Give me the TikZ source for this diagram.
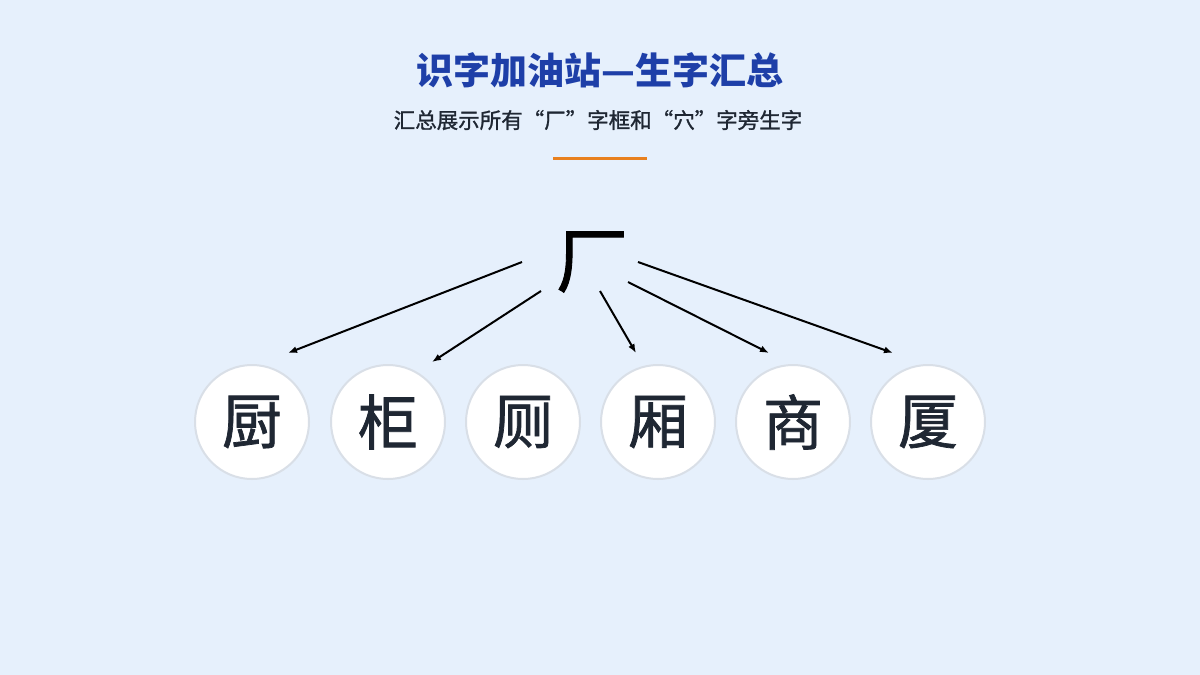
\documentclass[tikz,border=0pt]{standalone}
\usepackage{fontspec}
\setmainfont{Noto Sans CJK SC}
\newfontfamily\cjkm[FakeBold=1.2]{Noto Sans CJK SC}
\definecolor{bgc}{HTML}{E6F0FC}
\definecolor{titc}{HTML}{1E3FA8}
\definecolor{txtc}{HTML}{1F2733}
\definecolor{orc}{HTML}{E8801E}
\definecolor{rimc}{HTML}{D9DFE7}
\tikzset{
  charc/.style={circle,fill=white,draw=rimc,line width=2pt,minimum size=114pt,inner sep=0pt,text=txtc,font=\cjkm\fontsize{60}{62}\selectfont},
  arr/.style={-{Latex[length=9pt,width=7pt]},line width=2pt,draw=black}
}
\usetikzlibrary{arrows.meta}
\begin{document}
\begin{tikzpicture}[x=1pt,y=-1pt]
\fill[bgc] (0,0) rectangle (1200,675);
\useasboundingbox (0,0) rectangle (1200,675);
\node[text=titc,font=\fontsize{37}{40}\selectfont\bfseries] (title) at (600,70) {识字加油站—生字汇总};
\node[text=txtc,font=\cjkm\fontsize{21.5}{24}\selectfont] (sub) at (598,120) {汇总展示所有“厂”字框和“穴”字旁生字};
\draw[orc,line width=3pt] (553,158) -- (647,158);
\node[font=\cjkm\fontsize{72}{74}\selectfont,text=black] (chang) at (592,262) {厂};
\foreach \n/\x/\c in {1/252/厨,2/388/柜,3/523/厕,4/658/厢,5/793/商,6/928/厦}{
  \node[charc] (c\n) at (\x,422) {\c};
}
\coordinate (s1) at (522,262); \coordinate (e1) at (288,353);
\coordinate (s2) at (541,291); \coordinate (e2) at (432,362);
\coordinate (s3) at (600,291); \coordinate (e3) at (636,353);
\coordinate (s4) at (628,282); \coordinate (e4) at (769,353);
\coordinate (s5) at (638,262); \coordinate (e5) at (893,353);
\foreach \i in {1,...,5}{\draw[arr] (s\i) -- (e\i);}
\end{tikzpicture}
\end{document}
